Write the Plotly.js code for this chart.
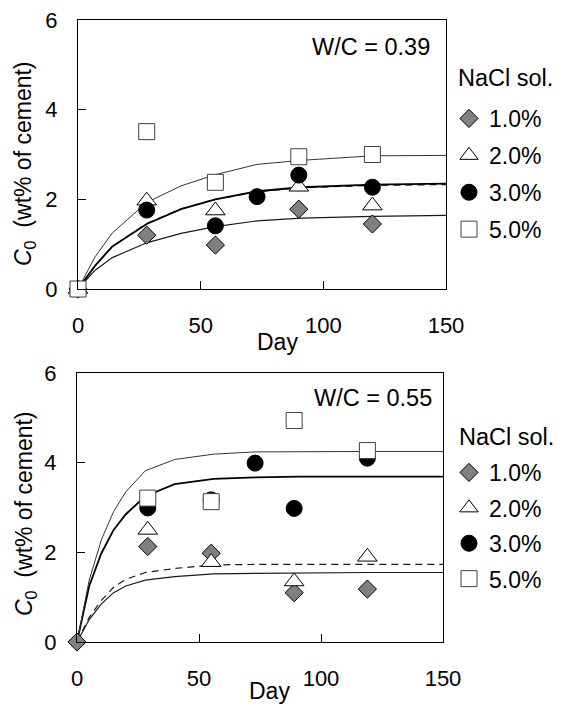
<!DOCTYPE html>
<html>
<head>
<meta charset="utf-8">
<script src="https://cdn.plot.ly/plotly-3.0.1.min.js"></script>
<style>html,body{margin:0;padding:0;background:#fff;}#chart{width:562px;height:704px;}</style>
</head>
<body>
<div id="chart"></div>
<script>
// ---------- data ----------
const seriesNames = ['1.0%', '2.0%', '3.0%', '5.0%'];

// W/C = 0.39 measured points
const daysA_1 = [0, 28, 56, 90, 120];
const valsA_1 = [0, 1.20, 0.98, 1.78, 1.45];
const daysA_2 = [0, 28, 56, 90, 120];
const valsA_2 = [0, 1.97, 1.75, 2.28, 1.86];
const daysA_3 = [0, 28, 56, 73, 90, 120];
const valsA_3 = [0, 1.76, 1.41, 2.06, 2.54, 2.27];
const daysA_5 = [0, 28, 56, 90, 120];
const valsA_5 = [0, 3.51, 2.38, 2.95, 3.00];

// W/C = 0.39 fitted curves
const curveDaysA = [0, 7, 14, 28, 42, 56, 73, 91, 120, 150];
const curveA_1 = [0, 0.42, 0.70, 1.03, 1.24, 1.39, 1.52, 1.58, 1.62, 1.64];
const curveA_2 = [0, 0.52, 0.95, 1.46, 1.79, 2.00, 2.17, 2.26, 2.31, 2.33];
const curveA_3 = [0, 0.52, 0.95, 1.45, 1.78, 2.00, 2.18, 2.27, 2.33, 2.35];
const curveA_5 = [0, 0.72, 1.25, 1.93, 2.30, 2.55, 2.78, 2.87, 2.97, 2.98];

// W/C = 0.55 measured points
const daysB_1 = [0, 29, 55, 89, 119];
const valsB_1 = [0, 2.13, 1.98, 1.10, 1.18];
const daysB_2 = [29, 55, 89, 119];
const valsB_2 = [2.50, 1.78, 1.35, 1.90];
const daysB_3 = [29, 55, 73, 89, 119];
const valsB_3 = [2.99, 3.17, 3.99, 2.98, 4.10];
const daysB_5 = [29, 55, 89, 119];
const valsB_5 = [3.21, 3.13, 4.94, 4.27];

// W/C = 0.55 fitted curves
const curveDaysB = [0, 5, 10, 15, 20, 28, 40, 56, 73, 91, 120, 150];
const curveB_1 = [0, 0.50, 0.85, 1.10, 1.25, 1.38, 1.46, 1.52, 1.53, 1.54, 1.55, 1.55];
const curveB_2 = [0, 0.55, 0.93, 1.22, 1.40, 1.55, 1.64, 1.72, 1.73, 1.73, 1.73, 1.73];
const curveB_3 = [0, 1.25, 1.98, 2.50, 2.85, 3.25, 3.52, 3.64, 3.67, 3.69, 3.69, 3.69];
const curveB_5 = [0, 1.38, 2.28, 2.91, 3.35, 3.82, 4.07, 4.19, 4.24, 4.25, 4.25, 4.25];

const xTicks = [0, 50, 100, 150];
const yTicks = [0, 2, 4, 6];

// ---------- styles ----------
const FONT = 'Liberation Sans, Arial, sans-serif';
const markerStyles = [
  {symbol: 'diamond', size: 14, color: '#808080', line: {color: '#000', width: 1}},
  {symbol: 'triangle-up', size: 17, color: '#fff', line: {color: '#000', width: 1}},
  {symbol: 'circle', size: 16, color: '#000', line: {color: '#000', width: 1}},
  {symbol: 'square', size: 16, color: '#fff', line: {color: '#404040', width: 1}}
];
const curveStyles = [
  {color: '#1a1a1a', width: 1.2},
  {color: '#1a1a1a', width: 1.2, dash: '7px,5px'},
  {color: '#000', width: 1.8},
  {color: '#333', width: 1}
];

function curve(x, y, i, xa, ya) {
  return {x: x, y: y, xaxis: xa, yaxis: ya, mode: 'lines', line: curveStyles[i],
          showlegend: false, hoverinfo: 'skip'};
}
function pts(x, y, i, xa, ya, leg) {
  return {x: x, y: y, xaxis: xa, yaxis: ya, mode: 'markers', name: seriesNames[i],
          marker: markerStyles[i], cliponaxis: false, legend: leg,
          legendgroup: leg + i, showlegend: true};
}

const traces = [
  curve(curveDaysA, curveA_1, 0, 'x', 'y'),
  curve(curveDaysA, curveA_2, 1, 'x', 'y'),
  curve(curveDaysA, curveA_3, 2, 'x', 'y'),
  curve(curveDaysA, curveA_5, 3, 'x', 'y'),
  pts(daysA_1, valsA_1, 0, 'x', 'y', 'legend'),
  pts(daysA_2, valsA_2, 1, 'x', 'y', 'legend'),
  pts(daysA_3, valsA_3, 2, 'x', 'y', 'legend'),
  pts(daysA_5, valsA_5, 3, 'x', 'y', 'legend'),
  curve(curveDaysB, curveB_1, 0, 'x2', 'y2'),
  curve(curveDaysB, curveB_2, 1, 'x2', 'y2'),
  curve(curveDaysB, curveB_3, 2, 'x2', 'y2'),
  curve(curveDaysB, curveB_5, 3, 'x2', 'y2'),
  pts(daysB_1, valsB_1, 0, 'x2', 'y2', 'legend2'),
  pts(daysB_2, valsB_2, 1, 'x2', 'y2', 'legend2'),
  pts(daysB_3, valsB_3, 2, 'x2', 'y2', 'legend2'),
  pts(daysB_5, valsB_5, 3, 'x2', 'y2', 'legend2')
];

const W = 562, H = 704;
function px(v) { return v / W; }
function py(v) { return 1 - v / H; }

function xaxisDef(l, r, anchor) {
  return {domain: [px(l), px(r)], range: [0, 150], tickvals: xTicks, ticks: 'inside', ticklen: 8,
          tickcolor: '#000', showline: true, mirror: true, linecolor: '#000', linewidth: 1,
          showgrid: false, zeroline: false, anchor: anchor, ticklabelstandoff: 17,
          tickfont: {family: FONT, size: 22, color: '#000'}, fixedrange: true};
}
function yaxisDef(top, bottom, anchor) {
  return {domain: [py(bottom), py(top)], range: [0, 6], tickvals: yTicks, ticks: 'inside', ticklen: 8,
          tickcolor: '#000', showline: true, mirror: true, linecolor: '#000', linewidth: 1,
          showgrid: false, zeroline: false, anchor: anchor, ticklabelstandoff: 15,
          tickfont: {family: FONT, size: 22, color: '#000'}, fixedrange: true};
}
function legendDef(x, y, gap) {
  return {x: px(x), xanchor: 'left', y: py(y), yanchor: 'top', bgcolor: 'rgba(0,0,0,0)',
          borderwidth: 0, tracegroupgap: gap, font: {family: FONT, size: 23, color: '#000'}};
}
function ann(text, x, y, xanchor, size, angle) {
  return {text: text, x: px(x), y: py(y), xref: 'paper', yref: 'paper', xanchor: xanchor,
          yanchor: 'middle', showarrow: false, font: {family: FONT, size: size, color: '#000'},
          textangle: angle || 0};
}

const layout = {
  width: W, height: H, margin: {l: 0, r: 0, t: 0, b: 0},
  paper_bgcolor: '#fff', plot_bgcolor: '#fff', font: {family: FONT, color: '#000'},
  xaxis: xaxisDef(78, 446, 'y'),
  yaxis: yaxisDef(20, 289, 'x'),
  xaxis2: xaxisDef(77, 443, 'y2'),
  yaxis2: yaxisDef(373, 642, 'x2'),
  legend: legendDef(449, 97, 4),
  legend2: legendDef(449, 451, 2.5),
  annotations: [
    ann('W/C = 0.39', 432, 47, 'right', 23.5),
    ann('W/C = 0.55', 434, 398, 'right', 23.5),
    ann('NaCl sol.', 456, 78, 'left', 23.5),
    ann('NaCl sol.', 457, 437, 'left', 23.5),
    ann('Day', 277, 342, 'center', 23),
    ann('Day', 269, 691, 'center', 23),
    ann('<i>C</i><sub>0</sub>  (wt% of cement)', 25, 164, 'center', 23, -90),
    ann('<i>C</i><sub>0</sub>  (wt% of cement)', 25, 514, 'center', 23, -90)
  ],
  showlegend: true
};

Plotly.newPlot('chart', traces, layout, {staticPlot: true, displayModeBar: false});
</script>
</body>
</html>
